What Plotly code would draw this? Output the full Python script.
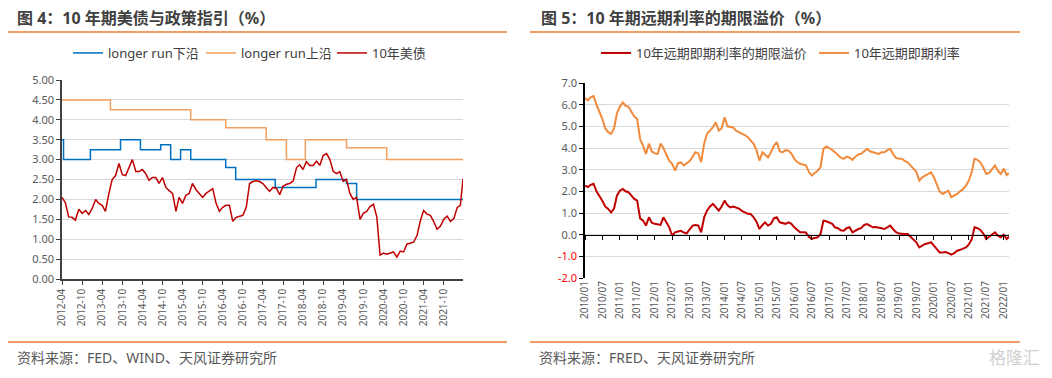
import pandas as pd
import plotly.graph_objects as go

# ---------------- Left panel data ----------------
ust_dates = list(pd.date_range("2012-04-01", "2022-03-01", freq="MS").strftime("%Y-%m-%d")) + ["2022-03-25"]
ust_10y = [
    2.05, 1.92, 1.56, 1.55, 1.48, 1.75, 1.65, 1.72, 1.62,            # 2012-04..12
    1.78, 2.00, 1.90, 1.85, 1.70, 2.15, 2.50, 2.60, 2.90, 2.62, 2.60, 2.80,  # 2013
    3.00, 2.70, 2.70, 2.75, 2.65, 2.48, 2.55, 2.55, 2.40, 2.55, 2.30, 2.22,  # 2014
    2.15, 1.70, 2.05, 1.90, 2.10, 2.15, 2.40, 2.25, 2.15, 2.05, 2.15, 2.22,  # 2015
    2.27, 1.90, 1.70, 1.80, 1.85, 1.85, 1.45, 1.55, 1.58, 1.60, 1.80, 2.40,  # 2016
    2.45, 2.47, 2.45, 2.40, 2.30, 2.20, 2.30, 2.28, 2.12, 2.33, 2.38, 2.40,  # 2017
    2.46, 2.80, 2.87, 2.75, 2.95, 2.85, 2.85, 2.96, 2.86, 3.10, 3.15, 3.00,  # 2018
    2.70, 2.65, 2.70, 2.45, 2.50, 2.15, 2.00, 2.05, 1.50, 1.65, 1.70, 1.82,  # 2019
    1.88, 1.55, 0.60, 0.65, 0.62, 0.65, 0.68, 0.55, 0.70, 0.68, 0.88, 0.90,  # 2020
    0.93, 1.10, 1.45, 1.72, 1.63, 1.60, 1.45, 1.25, 1.33, 1.50, 1.58, 1.45,  # 2021
    1.52, 1.80, 1.85, 2.52,                                           # 2022
]
lower_dates = ["2012-04-01", "2012-04-15", "2012-12-15", "2013-09-15", "2014-03-15",
               "2014-09-15", "2014-12-15", "2015-03-15", "2015-06-15", "2016-04-28",
               "2016-07-28", "2017-07-22", "2018-07-28", "2019-05-01", "2019-08-01",
               "2022-03-25"]
lower_vals = [3.5, 3.0, 3.25, 3.5, 3.25, 3.375, 3.0, 3.25, 3.0, 2.8, 2.5, 2.3, 2.5, 2.4, 2.0, 2.0]
upper_dates = ["2012-04-01", "2013-06-15", "2015-06-15", "2016-04-28", "2017-05-01",
               "2017-11-01", "2018-04-22", "2019-05-01", "2020-05-01", "2022-03-25"]
upper_vals = [4.5, 4.25, 4.0, 3.8, 3.5, 3.0, 3.5, 3.3, 3.0, 3.0]
left_tick_dates = list(pd.date_range("2012-04-01", "2021-10-01", freq="6MS").strftime("%Y-%m-%d"))
left_tick_text = [d[:7] for d in left_tick_dates]

# ---------------- Right panel data ----------------
fwd_dates = list(pd.date_range("2010-01-01", "2022-02-01", freq="MS").strftime("%Y-%m-%d")) + ["2022-02-25"]
fwd_rate = [
    6.30, 6.20, 6.35, 6.40, 6.00, 5.70, 5.35, 4.90, 4.73, 4.65, 4.90, 5.60,  # 2010
    5.90, 6.10, 5.95, 5.90, 5.70, 5.45, 5.35, 4.40, 4.10, 3.73, 4.20, 3.85,  # 2011
    3.75, 3.73, 4.20, 4.00, 3.70, 3.40, 3.27, 2.96, 3.30, 3.34, 3.20, 3.30,  # 2012
    3.40, 3.60, 3.80, 3.75, 3.35, 4.20, 4.65, 4.80, 4.96, 5.19, 4.80, 4.90,  # 2013
    5.42, 5.00, 4.96, 4.95, 4.80, 4.73, 4.70, 4.60, 4.50, 4.35, 4.19, 3.90,  # 2014
    3.42, 3.80, 3.70, 3.57, 3.80, 4.10, 4.27, 3.85, 3.80, 3.90, 3.88, 3.75,  # 2015
    3.50, 3.35, 3.27, 3.25, 3.20, 2.90, 2.73, 2.85, 2.95, 3.11, 3.96, 4.07,  # 2016
    4.00, 3.91, 3.80, 3.65, 3.55, 3.50, 3.60, 3.55, 3.45, 3.60, 3.70, 3.73,  # 2017
    3.85, 3.96, 3.85, 3.80, 3.75, 3.73, 3.80, 3.80, 3.90, 3.96, 3.70, 3.54,  # 2018
    3.50, 3.50, 3.40, 3.34, 3.20, 3.04, 2.90, 2.50, 2.65, 2.73, 2.80, 2.88,  # 2019
    2.65, 2.30, 2.00, 1.88, 1.95, 2.03, 1.73, 1.80, 1.88, 2.00, 2.10, 2.26,  # 2020
    2.50, 2.90, 3.50, 3.45, 3.34, 3.10, 2.80, 2.85, 3.00, 3.19, 2.95, 2.80,  # 2021
    3.04, 2.75, 2.85,                                                 # 2022
]
term_premium = [
    2.26, 2.20, 2.30, 2.35, 2.00, 1.80, 1.57, 1.30, 1.19, 1.03, 1.20, 1.80,  # 2010
    2.03, 2.11, 2.00, 1.96, 1.80, 1.65, 1.57, 0.75, 0.65, 0.42, 0.80, 0.55,  # 2011
    0.50, 0.49, 0.45, 0.80, 0.60, 0.34, -0.05, 0.11, 0.15, 0.18, 0.10, 0.06,  # 2012
    0.25, 0.42, 0.45, 0.42, 0.11, 0.80, 1.11, 1.30, 1.42, 1.25, 1.11, 1.30,  # 2013
    1.57, 1.35, 1.26, 1.30, 1.26, 1.20, 1.10, 1.03, 0.96, 0.95, 0.80, 0.60,  # 2014
    0.26, 0.45, 0.57, 0.42, 0.50, 0.75, 0.80, 0.57, 0.52, 0.50, 0.57, 0.50,  # 2015
    0.34, 0.20, 0.11, 0.11, 0.10, -0.10, -0.20, -0.15, -0.12, 0.03, 0.65, 0.62,  # 2016
    0.57, 0.50, 0.34, 0.30, 0.20, 0.18, 0.30, 0.34, 0.11, 0.20, 0.26, 0.30,  # 2017
    0.45, 0.49, 0.40, 0.34, 0.35, 0.34, 0.30, 0.26, 0.35, 0.42, 0.25, 0.11,  # 2018
    0.05, 0.03, 0.03, 0.03, -0.10, -0.20, -0.35, -0.59, -0.50, -0.43, -0.40, -0.35,  # 2019
    -0.51, -0.70, -0.82, -0.82, -0.80, -0.85, -0.92, -0.85, -0.74, -0.70, -0.65, -0.59,  # 2020
    -0.45, -0.20, 0.34, 0.30, 0.22, 0.05, -0.20, -0.10, 0.00, 0.11, -0.05, -0.12,  # 2021
    0.00, -0.20, -0.10,                                               # 2022
]
right_tick_dates = list(pd.date_range("2010-01-01", "2022-01-01", freq="6MS").strftime("%Y-%m-%d"))
right_tick_text = [d[:7].replace("-", "/") for d in right_tick_dates]
right_y_vals = [-2, -1, 0, 1, 2, 3, 4, 5, 6, 7]
right_y_text = [('<span style="color:#FF0000">%.1f</span>' % v) if v < 0 else "%.1f" % v for v in right_y_vals]

# ---------------- Styles ----------------
W, H = 1052, 378
OFF = 8  # page body margin in the browser
FONT = "Noto Sans, Noto Sans CJK SC, sans-serif"
ORANGE = "#ED7D31"
RED = "#C00000"
BLUE = "#0070C0"
GRID = "#D9D9D9"
TXT = "#404040"

def px(x):
    return (x - OFF) / W

def py(y):
    return 1 - (y - OFF) / H

fig = go.Figure()

fig.add_trace(go.Scatter(x=lower_dates, y=lower_vals, mode="lines", line_shape="hv",
                         name="longer run下沿", line=dict(color=BLUE, width=1.5),
                         xaxis="x", yaxis="y", legend="legend", legendwidth=88))
fig.add_trace(go.Scatter(x=upper_dates, y=upper_vals, mode="lines", line_shape="hv",
                         name="longer run上沿", line=dict(color="#F4A060", width=1.5),
                         xaxis="x", yaxis="y", legend="legend", legendwidth=86))
fig.add_trace(go.Scatter(x=ust_dates, y=ust_10y, mode="lines",
                         name="10年美债", line=dict(color=RED, width=1.5),
                         xaxis="x", yaxis="y", legend="legend"))

fig.add_trace(go.Scatter(x=fwd_dates, y=term_premium, mode="lines",
                         name="10年远期即期利率的期限溢价", line=dict(color=RED, width=2),
                         xaxis="x3", yaxis="y2", legend="legend2", legendwidth=173))
fig.add_trace(go.Scatter(x=fwd_dates, y=fwd_rate, mode="lines",
                         name="10年远期即期利率", line=dict(color="#F08A3C", width=2),
                         xaxis="x2", yaxis="y2", legend="legend2"))

ydom_l = [py(279), py(80)]
ydom_r = [py(278), py(83)]
zero_pos = ydom_r[0] + (0 - (-2)) / 9 * (ydom_r[1] - ydom_r[0])

tickfont = dict(family=FONT, size=11, color="#595959")

fig.update_layout(
    width=W, height=H, autosize=False,
    margin=dict(l=0, r=0, t=0, b=0, pad=0, autoexpand=False),
    paper_bgcolor="white", plot_bgcolor="white",
    font=dict(family=FONT, color=TXT),
    xaxis=dict(domain=[px(62), px(463)], anchor="y", type="date", automargin=False,
               range=["2012-04-01", "2022-03-25"],
               tickvals=left_tick_dates, ticktext=left_tick_text, tickangle=-90,
               tickfont=dict(family=FONT, size=10, color="#595959"),
               showgrid=False, showline=True, linecolor="#404040", linewidth=1.5,
               ticks="outside", ticklen=4, tickcolor="#404040", zeroline=False),
    yaxis=dict(domain=ydom_l, anchor="x", range=[0, 5], dtick=0.5, tickformat=".2f",
               automargin=False,
               tickfont=tickfont, showgrid=True, gridcolor=GRID, gridwidth=1.2,
               showline=True, linecolor="#404040", linewidth=1.5,
               ticks="outside", ticklen=4, tickcolor="#404040", zeroline=False),
    xaxis2=dict(domain=[px(585), px(1009)], anchor="y2", type="date", automargin=False,
                range=["2010-01-01", "2022-02-25"],
                tickvals=right_tick_dates, ticktext=right_tick_text, tickangle=-90,
                tickfont=dict(family=FONT, size=10, color="#595959"),
                showgrid=False, showline=False, ticks="", zeroline=False),
    xaxis3=dict(overlaying="x2", matches="x2", anchor="free", position=zero_pos,
                type="date", tickvals=right_tick_dates, showticklabels=False, automargin=False,
                showgrid=False, showline=True, linecolor="#000000", linewidth=1.2,
                ticks="outside", ticklen=4, tickcolor="#000000", zeroline=False),
    yaxis2=dict(domain=ydom_r, anchor="x2", range=[-2, 7], automargin=False,
                tickvals=right_y_vals, ticktext=right_y_text,
                tickfont=tickfont, showgrid=True, gridcolor=GRID, gridwidth=1.2,
                showline=True, linecolor="#000000", linewidth=1.5,
                ticks="outside", ticklen=4, tickcolor="#000000", zeroline=False),
    legend=dict(orientation="h", x=px(68), y=py(53), xanchor="left", yanchor="middle",
                font=dict(family=FONT, size=13, color=TXT), bgcolor="rgba(0,0,0,0)",
                itemwidth=30, tracegroupgap=0),
    legend2=dict(orientation="h", x=px(596), y=py(53), xanchor="left", yanchor="middle",
                 font=dict(family=FONT, size=13, color=TXT), bgcolor="rgba(0,0,0,0)",
                 itemwidth=30, tracegroupgap=0),
)

# titles, rules, sources
shapes = []
for (x0, x1) in [(7, 507), (530, 1020)]:
    for yy in (32, 342):
        shapes.append(dict(type="line", xref="paper", yref="paper",
                           x0=px(x0), x1=px(x1), y0=py(yy), y1=py(yy),
                           line=dict(color=ORANGE, width=1.5)))
fig.update_layout(shapes=shapes)

annots = [
    dict(text="<b>图 4：10 年期美债与政策指引（%）</b>", x=px(15), y=py(18)),
    dict(text="<b>图 5：10 年期远期利率的期限溢价（%）</b>", x=px(539), y=py(18)),
]
for a in annots:
    a.update(xref="paper", yref="paper", xanchor="left", yanchor="middle", showarrow=False,
             font=dict(family=FONT, size=16, color="#404040"))
srcs = [
    dict(text="资料来源：FED、WIND、天风证券研究所", x=px(15), y=py(357)),
    dict(text="资料来源：FRED、天风证券研究所", x=px(537), y=py(357)),
]
for a in srcs:
    a.update(xref="paper", yref="paper", xanchor="left", yanchor="middle", showarrow=False,
             font=dict(family=FONT, size=14, color="#595959"))
wm = dict(text="格隆汇", x=px(1042), y=py(357), xref="paper", yref="paper", xanchor="right",
          yanchor="middle", showarrow=False, font=dict(family=FONT, size=17, color="#D0D0D0"))
fig.update_layout(annotations=annots + srcs + [wm])

fig.write_html("out.html", config={"displayModeBar": False})
